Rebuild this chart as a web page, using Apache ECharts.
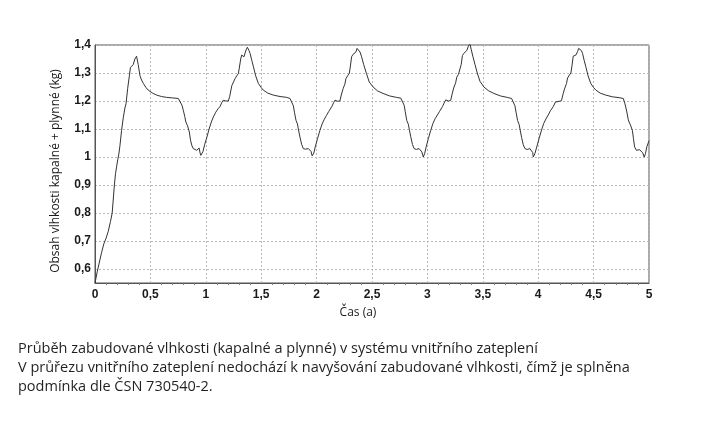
<!DOCTYPE html>
<html>
<head>
<meta charset="utf-8">
<script src="https://cdn.jsdelivr.net/npm/echarts@6/dist/echarts.min.js"></script>
<style>
html,body{margin:0;padding:0;background:#fff;}
#chart{width:709px;height:424px;}
</style>
</head>
<body>
<div id="chart"></div>
<script>
// ---- data: [time (years), moisture (kg)] ----
const rampUp = [[0,0.55],[0.02,0.59],[0.04,0.625],[0.06,0.66],[0.08,0.69],[0.10,0.71],[0.12,0.735],[0.14,0.77],[0.155,0.80],[0.165,0.85],[0.175,0.90],[0.185,0.94],[0.195,0.965],[0.205,0.99],[0.215,1.01],[0.225,1.04],[0.24,1.095],[0.255,1.14],[0.27,1.175],[0.28,1.19],[0.295,1.245],[0.31,1.29],[0.32,1.32],[0.33,1.325],[0.345,1.33],[0.36,1.35],[0.375,1.36]];
const year1 = [[0.39,1.33],[0.406,1.29],[0.42,1.275],[0.436,1.263],[0.46,1.248],[0.48,1.239],[0.52,1.228],[0.557,1.221],[0.6,1.216],[0.646,1.213],[0.70,1.211],[0.752,1.209],[0.77,1.205],[0.785,1.185],[0.797,1.167],[0.81,1.145],[0.82,1.125],[0.827,1.13],[0.835,1.112],[0.851,1.09],[0.862,1.06],[0.875,1.04],[0.887,1.03],[0.90,1.026],[0.918,1.024],[0.93,1.028],[0.94,1.032],[0.948,1.015],[0.955,1.006],[0.963,1.0],[0.975,1.02],[0.99,1.045],[1.008,1.068],[1.03,1.1],[1.05,1.125],[1.068,1.143],[1.09,1.16],[1.11,1.172],[1.128,1.18],[1.145,1.195],[1.158,1.203],[1.18,1.2],[1.203,1.2],[1.215,1.215],[1.235,1.255],[1.248,1.262],[1.264,1.28],[1.28,1.29],[1.294,1.298],[1.305,1.325],[1.315,1.35],[1.324,1.364],[1.335,1.36],[1.345,1.358],[1.355,1.372],[1.363,1.382],[1.375,1.392]];
const year2 = [[1.39,1.38],[1.40,1.37],[1.415,1.345],[1.43,1.322],[1.45,1.29],[1.474,1.263],[1.50,1.248],[1.519,1.239],[1.56,1.228],[1.61,1.221],[1.67,1.216],[1.73,1.213],[1.76,1.209],[1.775,1.203],[1.79,1.183],[1.80,1.16],[1.814,1.131],[1.82,1.136],[1.827,1.118],[1.835,1.1],[1.85,1.071],[1.865,1.045],[1.88,1.03],[1.90,1.028],[1.925,1.03],[1.94,1.036],[1.95,1.02],[1.96,1.004],[1.975,1.014],[1.99,1.04],[2.008,1.065],[2.03,1.095],[2.05,1.118],[2.07,1.135],[2.09,1.149],[2.11,1.163],[2.136,1.179],[2.155,1.195],[2.166,1.203],[2.19,1.199],[2.21,1.2],[2.225,1.225],[2.24,1.245],[2.255,1.26],[2.265,1.28],[2.28,1.29],[2.295,1.298],[2.305,1.325],[2.316,1.358],[2.328,1.366],[2.34,1.364],[2.355,1.375],[2.365,1.388],[2.377,1.394]];
const year3 = [[2.392,1.375],[2.406,1.358],[2.425,1.33],[2.45,1.298],[2.475,1.268],[2.51,1.25],[2.55,1.236],[2.6,1.227],[2.66,1.218],[2.72,1.213],[2.76,1.21],[2.775,1.204],[2.79,1.185],[2.80,1.162],[2.814,1.13],[2.82,1.137],[2.828,1.117],[2.837,1.098],[2.85,1.072],[2.865,1.045],[2.88,1.03],[2.90,1.027],[2.925,1.03],[2.94,1.035],[2.95,1.018],[2.963,1.0],[2.975,1.012],[2.99,1.038],[3.008,1.065],[3.03,1.095],[3.05,1.12],[3.07,1.137],[3.09,1.15],[3.11,1.163],[3.136,1.18],[3.155,1.196],[3.166,1.204],[3.19,1.2],[3.21,1.202],[3.225,1.228],[3.24,1.25],[3.255,1.265],[3.265,1.285],[3.28,1.295],[3.295,1.302],[3.305,1.33],[3.316,1.362],[3.328,1.37],[3.34,1.368],[3.355,1.38],[3.37,1.396],[3.384,1.405]];
const year4 = [[3.395,1.385],[3.41,1.36],[3.43,1.33],[3.45,1.3],[3.475,1.27],[3.51,1.25],[3.55,1.237],[3.6,1.227],[3.66,1.218],[3.72,1.213],[3.76,1.209],[3.775,1.203],[3.79,1.183],[3.80,1.16],[3.814,1.13],[3.82,1.135],[3.828,1.116],[3.837,1.097],[3.85,1.07],[3.865,1.044],[3.88,1.03],[3.90,1.027],[3.925,1.03],[3.94,1.034],[3.95,1.016],[3.956,1.0],[3.97,1.012],[3.99,1.04],[4.008,1.066],[4.03,1.096],[4.05,1.12],[4.07,1.136],[4.09,1.15],[4.11,1.165],[4.136,1.18],[4.155,1.196],[4.166,1.203],[4.19,1.199],[4.21,1.201],[4.225,1.226],[4.24,1.246],[4.255,1.262],[4.265,1.282],[4.28,1.292],[4.295,1.3],[4.305,1.326],[4.316,1.36],[4.328,1.367],[4.34,1.364],[4.355,1.376],[4.365,1.388],[4.377,1.394]];
const year5 = [[4.39,1.38],[4.40,1.37],[4.415,1.345],[4.43,1.322],[4.45,1.29],[4.474,1.263],[4.50,1.248],[4.52,1.239],[4.56,1.228],[4.61,1.221],[4.67,1.215],[4.73,1.212],[4.768,1.209],[4.783,1.19],[4.80,1.161],[4.812,1.135],[4.82,1.125],[4.825,1.132],[4.832,1.115],[4.85,1.095],[4.86,1.065],[4.87,1.036],[4.886,1.024],[4.90,1.026],[4.916,1.026],[4.93,1.032],[4.943,1.015],[4.957,1.0],[4.968,1.012],[4.98,1.036],[5.0,1.058]];

const yTicks = [0.6,0.7,0.8,0.9,1.0,1.1,1.2,1.3,1.4];
const yAxisTitle = 'Obsah vlhkosti kapalné + plynné (kg)';
const xAxisTitle = 'Čas (a)';
const captionLines = [
  'Průběh zabudované vlhkosti (kapalné a plynné) v systému vnitřního zateplení',
  'V průřezu vnitřního zateplení nedochází k navyšování zabudované vlhkosti, čímž je splněna',
  'podmínka dle ČSN 730540-2.'
];

const fmt = v => String(+v.toFixed(2)).replace('.', ',');
const labelStyle = {fontFamily:'Liberation Sans', fontWeight:'bold', fontSize:12, color:'#1a1a1a'};
const split = {show:true, lineStyle:{color:'#b8b8b8', type:[2,2], width:1}};

const chart = echarts.init(document.getElementById('chart'), null, {renderer:'canvas'});
chart.setOption({
  animation:false,
  backgroundColor:'#fff',
  grid:{left:95, right:60, top:45, bottom:141, show:true, borderColor:'#555', borderWidth:1, backgroundColor:'transparent'},
  xAxis:{
    type:'value', min:0, max:5, interval:0.5,
    name:xAxisTitle, nameLocation:'middle', nameGap:24,
    nameTextStyle:{fontFamily:'Open Sans', fontSize:12, color:'#1a1a1a', padding:[0,28,0,0]},
    axisLine:{show:true, lineStyle:{color:'#555', width:1}},
    axisTick:{show:false},
    minorTick:{show:true, splitNumber:5, length:2, lineStyle:{color:'#777'}},
    axisLabel:{...labelStyle, margin:6, formatter:fmt},
    splitLine:split
  },
  yAxis:{
    type:'value', min:0.55, max:1.4,
    name:yAxisTitle, nameLocation:'middle', nameGap:33, nameRotate:90,
    nameTextStyle:{fontFamily:'Open Sans', fontSize:12, color:'#1a1a1a', padding:[0,14,0,0]},
    axisLine:{show:true, lineStyle:{color:'#555', width:1}},
    axisTick:{show:false, customValues:yTicks},
    axisLabel:{...labelStyle, margin:4, formatter:fmt, customValues:yTicks},
    splitLine:split
  },
  series:[{
    type:'line',
    data:[].concat(rampUp, year1, year2, year3, year4, year5),
    showSymbol:false, symbol:'none',
    lineStyle:{color:'#333', width:1},
    silent:true
  }],
  graphic:[{
    type:'text', left:18, top:339,
    style:{text:captionLines.join('\n'), fontFamily:'Open Sans', fontSize:14.5, lineHeight:19, fill:'#231f20'}
  }]
});
</script>
</body>
</html>
